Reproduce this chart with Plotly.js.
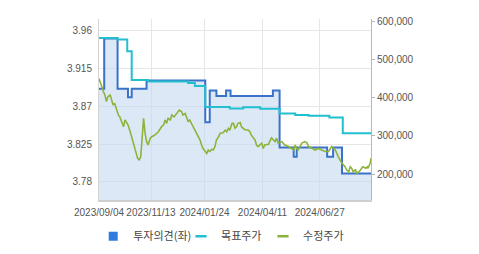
<!DOCTYPE html>
<html><head><meta charset="utf-8">
<script src="https://cdn.plot.ly/plotly-3.0.1.min.js"></script>
<style>html,body{margin:0;padding:0;background:#fff}#chart{width:479px;height:254px}</style>
</head><body><div id="chart"></div>
<script>
const seriesNames = ['투자의견(좌)', '목표주가', '수정주가'];

const opinionDates = ['2023-09-04','2023-09-11','2023-09-29','2023-10-13','2023-10-18','2023-11-07','2024-01-25','2024-01-31','2024-02-09','2024-02-22','2024-02-28','2024-04-25','2024-05-04','2024-05-23','2024-05-27','2024-07-07','2024-07-15','2024-07-27','2024-09-04'];
const opinionValues = [3.891,3.951,3.891,3.881,3.891,3.901,3.851,3.889,3.8825,3.889,3.8825,3.889,3.821,3.810,3.821,3.810,3.821,3.790,3.790];

const targetDates = ['2023-09-04','2023-09-29','2023-10-12','2023-10-18','2023-11-09','2024-01-02','2024-01-11','2024-01-25','2024-02-27','2024-03-16','2024-04-08','2024-05-04','2024-05-25','2024-06-12','2024-07-10','2024-07-28','2024-09-04'];
const targetValues = [557000,553000,522000,447000,443000,439000,431000,376000,372000,375000,371000,359000,355000,353000,348000,307000,307000];

const priceDates = ['2023-09-04','2023-09-08','2023-09-10','2023-09-12','2023-09-14','2023-09-16','2023-09-19','2023-09-21','2023-09-23','2023-09-25','2023-09-28','2023-09-30','2023-10-02','2023-10-05','2023-10-07','2023-10-09','2023-10-11','2023-10-13','2023-10-16','2023-10-18','2023-10-20','2023-10-22','2023-10-23','2023-10-26','2023-10-28','2023-10-30','2023-10-31','2023-11-02','2023-11-03','2023-11-05','2023-11-07','2023-11-09','2023-11-12','2023-11-14','2023-11-18','2023-11-23','2023-11-27','2023-11-30','2023-12-02','2023-12-04','2023-12-06','2023-12-09','2023-12-11','2023-12-14','2023-12-18','2023-12-21','2023-12-24','2023-12-26','2023-12-29','2023-12-31','2024-01-02','2024-01-04','2024-01-09','2024-01-13','2024-01-18','2024-01-20','2024-01-22','2024-01-25','2024-01-27','2024-01-29','2024-01-31','2024-02-03','2024-02-05','2024-02-07','2024-02-09','2024-02-12','2024-02-14','2024-02-18','2024-02-21','2024-02-23','2024-02-25','2024-02-27','2024-03-01','2024-03-03','2024-03-05','2024-03-07','2024-03-09','2024-03-12','2024-03-14','2024-03-18','2024-03-23','2024-03-25','2024-03-27','2024-04-01','2024-04-03','2024-04-05','2024-04-10','2024-04-12','2024-04-14','2024-04-19','2024-04-21','2024-04-23','2024-04-26','2024-04-28','2024-04-30','2024-05-02','2024-05-07','2024-05-11','2024-05-16','2024-05-20','2024-05-23','2024-05-25','2024-05-27','2024-05-29','2024-06-03','2024-06-07','2024-06-10','2024-06-12','2024-06-16','2024-06-21','2024-06-25','2024-06-30','2024-07-04','2024-07-09','2024-07-13','2024-07-18','2024-07-22','2024-07-27','2024-07-31','2024-08-02','2024-08-05','2024-08-07','2024-08-09','2024-08-11','2024-08-14','2024-08-16','2024-08-19','2024-08-24','2024-08-28','2024-08-30','2024-08-31','2024-09-03','2024-09-04'];
const priceValues = [451000,425000,416000,407000,390000,403000,407000,394000,381000,386000,368000,355000,350000,333000,324000,342000,337000,329000,311000,298000,285000,267000,263000,241000,237000,244000,267000,315000,346000,307000,285000,276000,294000,298000,302000,311000,324000,329000,342000,333000,346000,342000,355000,350000,359000,368000,364000,355000,359000,346000,337000,342000,324000,307000,289000,276000,267000,259000,254000,263000,259000,265000,263000,272000,289000,298000,307000,308000,315000,311000,320000,315000,333000,333000,320000,324000,333000,335000,323000,317000,315000,311000,302000,289000,276000,272000,281000,267000,276000,278000,289000,295000,289000,285000,294000,281000,285000,276000,272000,267000,263000,276000,267000,263000,281000,285000,281000,272000,267000,263000,267000,263000,259000,259000,272000,263000,245000,228000,219000,211000,206000,219000,215000,206000,211000,202000,206000,219000,215000,219000,215000,229000,242000];

const xTickDates = ['2023-09-04','2023-11-13','2024-01-24','2024-04-11','2024-06-27'];
const leftTicks = [3.78, 3.825, 3.87, 3.915, 3.96];
const rightTicks = [200000, 300000, 400000, 500000, 600000];

const colors = {opinion: '#3a72c8', opinionLegend: '#2f7be0', fill: 'rgba(198,217,242,0.6)', target: '#22bfcf', price: '#8cb43c'};
const tickFont = {family: 'Liberation Sans, Arial, sans-serif', size: 10, color: '#555'};
const legendFont = {family: 'Noto Sans CJK KR, sans-serif', size: 11, color: '#444'};

const traces = [
  {x: opinionDates, y: opinionValues, yaxis: 'y', type: 'scatter', mode: 'lines',
   line: {shape: 'hv', color: colors.opinion, width: 2}, fill: 'tozeroy', fillcolor: colors.fill,
   showlegend: false, hoverinfo: 'skip'},
  {x: targetDates, y: targetValues, yaxis: 'y2', type: 'scatter', mode: 'lines',
   line: {shape: 'hv', color: colors.target, width: 2}, showlegend: false, hoverinfo: 'skip'},
  {x: priceDates, y: priceValues, yaxis: 'y2', type: 'scatter', mode: 'lines',
   line: {color: colors.price, width: 1.6}, showlegend: false, hoverinfo: 'skip'},
  {x: [null], y: [null], type: 'scatter', mode: 'markers', name: seriesNames[0], legend: 'legend',
   marker: {symbol: 'square', size: 9, color: colors.opinionLegend}},
  {x: [null], y: [null], yaxis: 'y2', type: 'scatter', mode: 'markers', name: seriesNames[1], legend: 'legend2',
   marker: {symbol: 'line-ew', size: 8, line: {width: 2.5, color: colors.target}}},
  {x: [null], y: [null], yaxis: 'y2', type: 'scatter', mode: 'markers', name: seriesNames[2], legend: 'legend3',
   marker: {symbol: 'line-ew', size: 8, line: {width: 2.5, color: colors.price}}}
];

const legendBase = {orientation: 'h', y: -0.2, yanchor: 'middle', xanchor: 'left', font: legendFont, bgcolor: 'rgba(0,0,0,0)'};

const layout = {
  width: 479, height: 254,
  margin: {l: 99, r: 108, t: 19, b: 54, pad: 0, autoexpand: false},
  paper_bgcolor: '#ffffff', plot_bgcolor: '#ffffff',
  xaxis: {type: 'date', range: ['2023-09-04', '2024-09-04'], tickvals: xTickDates, tickformat: '%Y/%m/%d',
    tickangle: 0, ticklabelstandoff: 2, automargin: false, showgrid: true, gridcolor: '#e6e6e6', gridwidth: 1, showline: true, linecolor: '#cfcfcf', linewidth: 2,
    ticks: '', tickfont: tickFont, zeroline: false, fixedrange: true},
  yaxis: {range: [3.7583, 3.9743], tickvals: leftTicks, ticktext: leftTicks.map(String), automargin: false,
    showgrid: true, gridcolor: '#e6e6e6', gridwidth: 1, showline: true, linecolor: '#d4d4d4', linewidth: 1,
    ticks: '', ticklabelstandoff: 4, tickfont: tickFont, zeroline: false, fixedrange: true},
  yaxis2: {overlaying: 'y', side: 'right', range: [131750, 606900], tickvals: rightTicks, tickformat: ',', automargin: false,
    showgrid: false, showline: true, linecolor: '#b8b8b8', linewidth: 1, ticks: 'outside', ticklen: 3,
    tickcolor: '#b8b8b8', tickfont: tickFont, zeroline: false, fixedrange: true},
  legend: Object.assign({}, legendBase, {x: -0.0213}),
  legend2: Object.assign({}, legendBase, {x: 0.3015}),
  legend3: Object.assign({}, legendBase, {x: 0.603}),
  showlegend: true
};

Plotly.newPlot('chart', traces, layout, {displayModeBar: false, staticPlot: true});
</script>
</body></html>
